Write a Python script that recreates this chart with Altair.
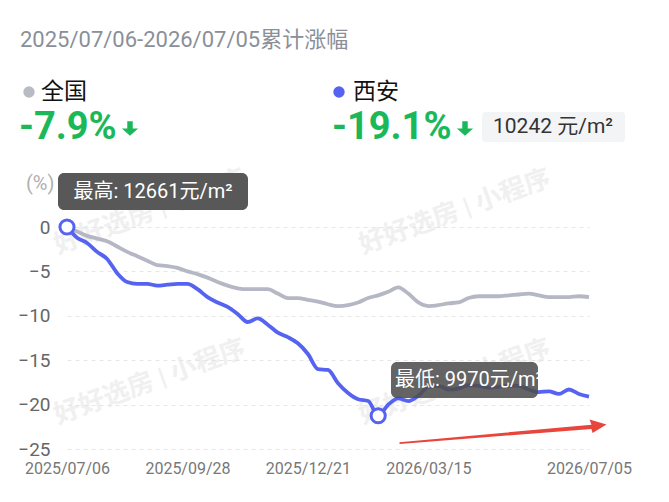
import altair as alt
import pandas as pd

FONT = "Roboto, 'Noto Sans CJK SC', sans-serif"

dates = pd.date_range("2025-07-06", periods=53, freq="7D").strftime("%Y/%m/%d").tolist()

national = [0.0, -0.5, -1.0, -1.3, -1.6, -2.2, -2.8, -3.3, -3.8, -4.3,
            -4.4, -4.6, -5.0, -5.3, -5.7, -6.2, -6.6, -6.9, -7.0, -7.0,
            -7.0, -7.5, -8.0, -8.0, -8.2, -8.4, -8.7, -8.9, -8.8, -8.5,
            -8.0, -7.7, -7.3, -6.8, -7.5, -8.5, -8.9, -8.8, -8.6, -8.5,
            -8.0, -7.8, -7.8, -7.8, -7.7, -7.6, -7.5, -7.7, -7.9, -7.9,
            -7.9, -7.8, -7.9]

xian = [0.0, -1.2, -1.8, -2.8, -3.6, -5.2, -6.2, -6.4, -6.4, -6.6,
        -6.5, -6.4, -6.4, -7.0, -7.9, -8.5, -9.0, -9.8, -10.7, -10.3,
        -11.0, -11.9, -12.4, -13.1, -14.3, -16.0, -16.1, -17.6, -18.7, -19.4,
        -19.6, -21.25, -20.0, -19.3, -19.6, -19.0, -18.0, -17.9, -18.3, -18.2,
        -17.8, -17.9, -18.1, -18.0, -17.9, -17.9, -18.3, -18.6, -18.5, -18.8,
        -18.3, -18.8, -19.1]

series_names = ["全国", "西安"]
series_colors = ["#b5b7c4", "#5663f0"]
y_ticks = [0, -5, -10, -15, -20, -25]
x_ticks = [(2025, 7, 6), (2025, 9, 28), (2025, 12, 21), (2026, 3, 15), (2026, 7, 5)]

title_text = "2025/07/06-2026/07/05累计涨幅"
national_change = "-7.9%"
xian_change = "-19.1%"
xian_price = "10242 元/m²"
max_label = "最高: 12661元/m²"
min_label = "最低: 9970元/m²"
watermark = "好好选房 | 小程序"

df = pd.DataFrame({
    "date": dates * 2,
    "value": national + xian,
    "series": ["全国"] * len(dates) + ["西安"] * len(dates),
})
imax = xian.index(max(xian))
imin = xian.index(min(xian))
marks_df = pd.DataFrame({"date": [dates[imax], dates[imin]],
                         "value": [xian[imax], xian[imin]]})

one = pd.DataFrame({"a": [0]})
green = "#1bb85a"

x_enc = alt.X("date:T",
              scale=alt.Scale(domain=[alt.DateTime(year=2025, month=7, date=6),
                                      alt.DateTime(year=2026, month=7, date=5)],
                              nice=False),
              axis=alt.Axis(values=[alt.DateTime(year=y, month=m, date=d) for y, m, d in x_ticks],
                            format="%Y/%m/%d", grid=False, domain=False, ticks=False,
                            labelFontSize=16, labelColor="#777777", labelPadding=11,
                            labelFont=FONT, title=None, labelOverlap=False,
                            labelFlush=False))
y_enc = alt.Y("value:Q",
              scale=alt.Scale(domain=[-25, 0], nice=False, zero=False),
              axis=alt.Axis(values=y_ticks, grid=True, gridDash=[4, 4], gridColor="#e6e6e6",
                            domain=False, ticks=False, labelFontSize=19, labelColor="#666666",
                            labelPadding=17, labelFont=FONT, title=None))

layers = []

# watermarks
for wx, wy in [(83, -15), (388, -15), (83, 155), (388, 155)]:
    layers.append(alt.Chart(one).mark_text(text=watermark, font=FONT, fontSize=26,
                                           fontWeight="bold", color="#e4e4e4", opacity=0.55,
                                           angle=340, align="center", baseline="middle")
                  .encode(x=alt.value(wx), y=alt.value(wy)))

lines = alt.Chart(df).mark_line(interpolate="monotone", strokeWidth=3.8).encode(
    x=x_enc, y=y_enc,
    color=alt.Color("series:N", scale=alt.Scale(domain=series_names, range=series_colors),
                    legend=None),
    order=alt.Order("series:N"),
)
layers.append(lines)

pts = alt.Chart(marks_df).mark_point(filled=True, fill="white", stroke="#5663f0",
                                     strokeWidth=3, size=200, opacity=1).encode(
    x=alt.X("date:T"), y=alt.Y("value:Q"))
layers.append(pts)


def vtext(txt, x, y, **kw):
    return alt.Chart(one).mark_text(text=txt, font=FONT, baseline="middle", **kw).encode(
        x=alt.value(x), y=alt.value(y))


def vrect(x, x2, y, y2, **kw):
    return alt.Chart(one).mark_rect(**kw).encode(
        x=alt.value(x), x2=alt.value(x2), y=alt.value(y), y2=alt.value(y2))


down_arrow = "M-0.32,-0.85 L0.32,-0.85 L0.32,0.0 L0.95,0.0 L0,0.85 L-0.95,0.0 L-0.32,0.0 Z"


def vshape(shape, x, y, size, color):
    return alt.Chart(one).mark_point(shape=shape, filled=True, color=color, opacity=1,
                                     size=size).encode(x=alt.value(x), y=alt.value(y))


# header
layers.append(vtext(title_text, -47, -187, align="left", fontSize=22, color="#8a8f99"))
layers.append(vshape("circle", -38, -135, 130, "#b8bac4"))
layers.append(vtext("全国", -26, -135, align="left", fontSize=23, color="#111111"))
layers.append(vtext(national_change, -48, -99, align="left", fontSize=38, fontWeight="bold",
                    color=green))
layers.append(vshape(down_arrow, 63, -98.5, 290, green))
layers.append(vshape("circle", 272, -135, 130, "#5663f0"))
layers.append(vtext("西安", 286, -135, align="left", fontSize=23, color="#111111"))
layers.append(vtext(xian_change, 265, -99, align="left", fontSize=38, fontWeight="bold",
                    color=green))
layers.append(vshape(down_arrow, 398, -98.5, 290, green))
layers.append(vrect(415, 558, -115, -85, color="#f3f4f6", cornerRadius=3))
layers.append(vtext(xian_price, 486, -100, align="center", fontSize=21, color="#333333"))

# chart annotations
layers.append(vtext("(%)", -41, -43, align="left", fontSize=20, color="#b0b0b0"))
layers.append(vrect(-9, 181, -54, -17, color="#4f4f4f", opacity=0.95, cornerRadius=6))
layers.append(vtext(max_label, 86, -35, align="center", fontSize=20, color="white"))
layers.append(vrect(324, 471, 135, 171, color="#4f4f4f", opacity=0.88, cornerRadius=6))
layers.append(vtext(min_label, 402, 153, align="center", fontSize=20, color="white"))

arrow_path = ("M-1,0.099 L0.855,-0.070 L0.836,-0.121 L1,-0.072 "
              "L0.865,0.010 L0.855,-0.029 L-1,0.116 Z")
layers.append(vshape(arrow_path, 436, 205, 42849, "#e8453c"))

chart = alt.layer(*layers).properties(
    width=522, height=222,
    autosize=alt.AutoSizeParams(type="none"),
    padding={"left": 59, "top": 219, "right": 70, "bottom": 43},
    background="white",
).configure_view(stroke=None)

chart.save("out.html", embed_options={"renderer": "svg", "actions": False})
